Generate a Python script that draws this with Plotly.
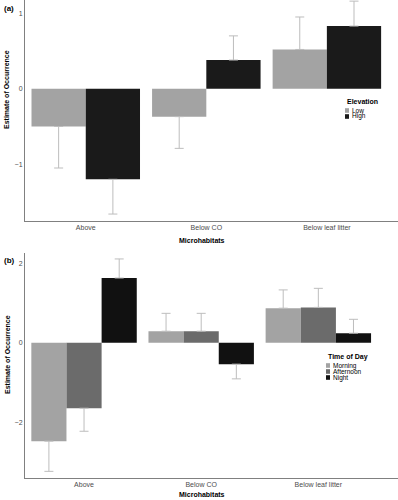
import plotly.graph_objects as go

categories = ["Above", "Below CO", "Below leaf litter"]

# Panel (a): Elevation
elev_names = ["Low", "High"]
elev_colors = ["#a3a3a3", "#1a1a1a"]
elev_values = [[-0.50, -0.37, 0.52], [-1.20, 0.38, 0.83]]
elev_errors = [[0.55, 0.42, 0.43], [0.46, 0.32, 0.33]]

# Panel (b): Time of day
time_names = ["Morning", "Afternoon", "Night"]
time_colors = ["#a3a3a3", "#6b6b6b", "#111111"]
time_values = [[-2.48, 0.29, 0.87], [-1.65, 0.29, 0.89], [1.63, -0.54, 0.24]]
time_errors = [[0.76, 0.45, 0.46], [0.58, 0.45, 0.48], [0.48, 0.37, 0.35]]

W, H = 398, 500
FONT = "Liberation Sans, Arial, sans-serif"
ERR_COLOR = "#bdbdbd"


def px(x):
    return x / W


def py(y):
    return 1 - y / H


fig = go.Figure()


def add_bars(names, colors, values, errors, xa, ya):
    for name, col, vals, errs in zip(names, colors, values, errors):
        up = [e if v > 0 else 0 for v, e in zip(vals, errs)]
        dn = [e if v < 0 else 0 for v, e in zip(vals, errs)]
        fig.add_trace(go.Bar(
            x=categories, y=vals, name=name, marker_color=col,
            marker_line_width=0, showlegend=False,
            xaxis=xa, yaxis=ya,
            error_y=dict(type="data", symmetric=False, array=up, arrayminus=dn,
                         color=ERR_COLOR, thickness=1, width=4.5),
        ))


add_bars(elev_names, elev_colors, elev_values, elev_errors, "x", "y")
add_bars(time_names, time_colors, time_values, time_errors, "x2", "y2")

axis_common = dict(showline=True, linecolor="#808080", linewidth=1, showgrid=False,
                   zeroline=False, ticks="", mirror=False,
                   tickfont=dict(family=FONT, size=7, color="#4d4d4d"))

fig.update_layout(
    width=W, height=H,
    margin=dict(l=0, r=0, t=0, b=0),
    paper_bgcolor="white", plot_bgcolor="white",
    barmode="group", bargap=0.1, bargroupgap=0,
    font=dict(family=FONT, size=7, color="#000"),
    xaxis=dict(domain=[px(25), 1], anchor="y", type="category",
               range=[-0.504, 2.59], **axis_common),
    yaxis=dict(domain=[py(221), 1], anchor="x", range=[-1.752, 1.175],
               tickvals=[-1, 0, 1], **axis_common),
    xaxis2=dict(domain=[px(25), 1], anchor="y2", type="category",
                range=[-0.504, 2.68], **axis_common),
    yaxis2=dict(domain=[py(477.7), py(253)], anchor="x2", range=[-3.40, 2.26],
                tickvals=[-2, 0, 2], **axis_common),
)

ann = []
shapes = []


def text(x, y, s, size=7, bold=False, angle=0, xanchor="center", color="#000"):
    ann.append(dict(x=px(x), y=py(y), xref="paper", yref="paper", text=f"<b>{s}</b>" if bold else s,
                    showarrow=False, textangle=angle, xanchor=xanchor, yanchor="middle",
                    font=dict(family=FONT, size=size, color=color)))


# panel labels
text(2, 8, "(a)", size=8, bold=True, xanchor="left")
text(2, 260, "(b)", size=8, bold=True, xanchor="left")
# axis titles
text(7, 90, "Estimate of Occurrence", bold=True, angle=-90)
text(7, 355, "Estimate of Occurrence", bold=True, angle=-90)
text(201.5, 240, "Microhabitats", bold=True)
text(201.5, 494, "Microhabitats", bold=True)


def legend(x0, y_title, y_first, step, title, names, colors):
    text(x0, y_title, title, bold=True, xanchor="left")
    for i, (n, c) in enumerate(zip(names, colors)):
        yy = y_first + i * step
        shapes.append(dict(type="rect", xref="paper", yref="paper",
                           x0=px(x0), x1=px(x0 + 4), y0=py(yy + 2.3), y1=py(yy - 2.3),
                           fillcolor=c, line=dict(width=0)))
        ann.append(dict(x=px(x0 + 4.5), y=py(yy), xref="paper", yref="paper", text=n,
                        showarrow=False, xanchor="left", yanchor="middle",
                        font=dict(family=FONT, size=6.5, color="#000")))


legend(345, 102, 110.5, 6, "Elevation", elev_names, elev_colors)
legend(326, 357, 365.5, 6, "Time of Day", time_names, time_colors)

fig.update_layout(annotations=ann, shapes=shapes)
fig.write_html("out.html", config={"displayModeBar": False},
               post_script="document.body.style.margin='0';document.body.style.overflow='hidden';")
